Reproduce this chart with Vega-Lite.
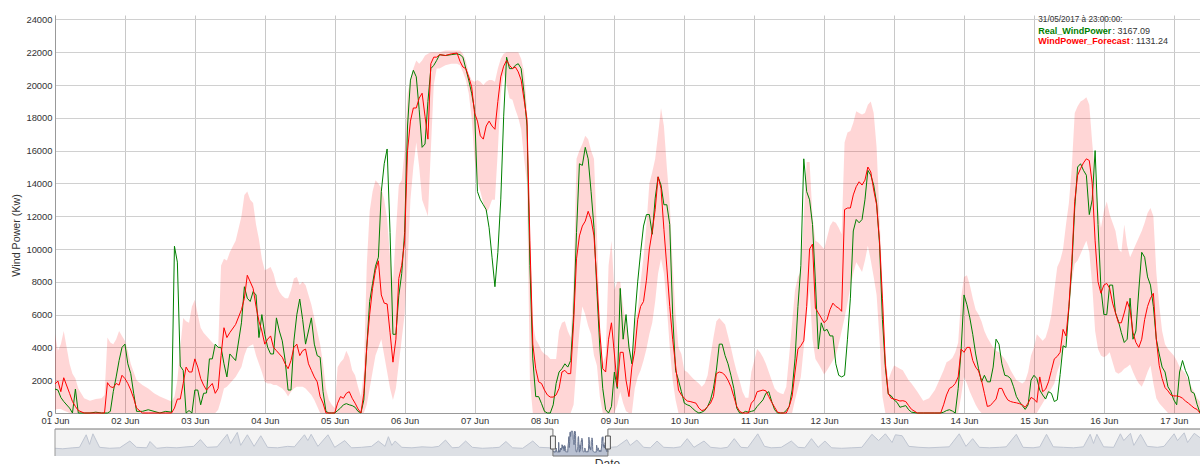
{
"$schema":"https://vega.github.io/schema/vega-lite/v6.json",
"padding":{"left":10,"top":14,"right":0,"bottom":0},
"background":"white",
"spacing":16,
"bounds":"flush",
"config":{"view":{"stroke":null},"font":"Liberation Sans","axisY":{"tickCount":13,"labelOverlap":false}},
"datasets":{
"main":[
{"date":"2017-06-01T00:00","real":1460,"forecast":1770,"low":200,"high":4800},
{"date":"2017-06-01T01:00","real":1400,"forecast":1950,"low":250,"high":3800},
{"date":"2017-06-01T02:00","real":950,"forecast":1300,"low":250,"high":4200},
{"date":"2017-06-01T03:00","real":700,"forecast":2150,"low":150,"high":5000},
{"date":"2017-06-01T05:00","real":300,"forecast":1200,"low":0,"high":3000},
{"date":"2017-06-01T06:00","real":0,"forecast":700,"low":0,"high":2400},
{"date":"2017-06-01T07:00","real":1460,"forecast":400,"low":0,"high":2100},
{"date":"2017-06-01T08:00","real":0,"forecast":150,"low":0,"high":1500},
{"date":"2017-06-01T10:00","real":0,"forecast":0,"low":0,"high":900},
{"date":"2017-06-01T12:00","real":0,"forecast":0,"low":0,"high":750},
{"date":"2017-06-01T14:00","real":50,"forecast":0,"low":0,"high":850},
{"date":"2017-06-01T16:00","real":0,"forecast":0,"low":0,"high":900},
{"date":"2017-06-01T17:00","real":0,"forecast":0,"low":0,"high":1100},
{"date":"2017-06-01T18:00","real":0,"forecast":1850,"low":0,"high":4600},
{"date":"2017-06-01T19:00","real":100,"forecast":1600,"low":0,"high":4300},
{"date":"2017-06-01T20:00","real":1300,"forecast":1550,"low":0,"high":4200},
{"date":"2017-06-01T21:00","real":2200,"forecast":1800,"low":0,"high":4500},
{"date":"2017-06-01T22:00","real":3200,"forecast":1700,"low":0,"high":5000},
{"date":"2017-06-01T23:00","real":4000,"forecast":2300,"low":0,"high":4700},
{"date":"2017-06-02T00:00","real":4200,"forecast":2100,"low":0,"high":4400},
{"date":"2017-06-02T01:00","real":3000,"forecast":1800,"low":0,"high":3800},
{"date":"2017-06-02T02:00","real":2400,"forecast":1400,"low":0,"high":3000},
{"date":"2017-06-02T03:00","real":1200,"forecast":900,"low":0,"high":2500},
{"date":"2017-06-02T04:00","real":100,"forecast":300,"low":0,"high":2000},
{"date":"2017-06-02T06:00","real":100,"forecast":0,"low":0,"high":1700},
{"date":"2017-06-02T08:00","real":200,"forecast":0,"low":0,"high":1500},
{"date":"2017-06-02T10:00","real":100,"forecast":0,"low":0,"high":1200},
{"date":"2017-06-02T12:00","real":0,"forecast":0,"low":0,"high":1000},
{"date":"2017-06-02T14:00","real":100,"forecast":0,"low":0,"high":850},
{"date":"2017-06-02T16:00","real":50,"forecast":0,"low":0,"high":700},
{"date":"2017-06-02T17:00","real":10170,"forecast":300,"low":0,"high":1000},
{"date":"2017-06-02T18:00","real":9200,"forecast":850,"low":0,"high":2000},
{"date":"2017-06-02T19:00","real":2860,"forecast":850,"low":0,"high":4000},
{"date":"2017-06-02T20:00","real":2600,"forecast":1800,"low":0,"high":5800},
{"date":"2017-06-02T21:00","real":0,"forecast":2800,"low":0,"high":5600},
{"date":"2017-06-02T22:00","real":150,"forecast":2500,"low":0,"high":5500},
{"date":"2017-06-02T23:00","real":0,"forecast":2500,"low":0,"high":6500},
{"date":"2017-06-03T00:00","real":1400,"forecast":3300,"low":0,"high":6900},
{"date":"2017-06-03T01:00","real":1400,"forecast":2800,"low":0,"high":6000},
{"date":"2017-06-03T02:00","real":500,"forecast":2100,"low":0,"high":5200},
{"date":"2017-06-03T03:00","real":1200,"forecast":1700,"low":0,"high":4900},
{"date":"2017-06-03T04:00","real":1220,"forecast":1400,"low":0,"high":4700},
{"date":"2017-06-03T05:00","real":3300,"forecast":1600,"low":0,"high":4500},
{"date":"2017-06-03T06:00","real":3300,"forecast":1800,"low":0,"high":4300},
{"date":"2017-06-03T07:00","real":4200,"forecast":1200,"low":0,"high":4100},
{"date":"2017-06-03T08:00","real":4000,"forecast":1500,"low":200,"high":4000},
{"date":"2017-06-03T09:00","real":4000,"forecast":3500,"low":800,"high":9000},
{"date":"2017-06-03T10:00","real":3000,"forecast":5200,"low":1500,"high":9400},
{"date":"2017-06-03T11:00","real":2200,"forecast":4600,"low":1600,"high":9300},
{"date":"2017-06-03T12:00","real":3600,"forecast":4900,"low":1800,"high":9800},
{"date":"2017-06-03T14:00","real":3200,"forecast":5400,"low":2200,"high":10500},
{"date":"2017-06-03T16:00","real":5500,"forecast":6300,"low":2800,"high":12000},
{"date":"2017-06-03T17:00","real":7700,"forecast":7000,"low":3500,"high":13300},
{"date":"2017-06-03T18:00","real":7000,"forecast":8400,"low":4000,"high":13500},
{"date":"2017-06-03T19:00","real":6800,"forecast":8000,"low":4100,"high":13000},
{"date":"2017-06-03T20:00","real":7400,"forecast":7600,"low":4200,"high":12800},
{"date":"2017-06-03T21:00","real":7200,"forecast":6500,"low":3500,"high":11500},
{"date":"2017-06-03T22:00","real":4600,"forecast":5600,"low":3000,"high":10600},
{"date":"2017-06-03T23:00","real":6000,"forecast":5000,"low":2500,"high":9400},
{"date":"2017-06-04T00:00","real":4800,"forecast":4200,"low":1900,"high":8700},
{"date":"2017-06-04T01:00","real":4000,"forecast":4500,"low":1800,"high":8800},
{"date":"2017-06-04T02:00","real":3600,"forecast":4700,"low":1800,"high":8900},
{"date":"2017-06-04T03:00","real":3600,"forecast":4000,"low":1700,"high":8500},
{"date":"2017-06-04T04:00","real":5800,"forecast":3800,"low":1700,"high":7800},
{"date":"2017-06-04T05:00","real":5000,"forecast":3600,"low":1600,"high":7400},
{"date":"2017-06-04T06:00","real":4400,"forecast":3400,"low":1500,"high":7150},
{"date":"2017-06-04T07:00","real":3200,"forecast":3000,"low":1300,"high":7000},
{"date":"2017-06-04T08:00","real":1400,"forecast":2700,"low":1000,"high":7000},
{"date":"2017-06-04T09:00","real":1400,"forecast":3200,"low":1300,"high":7500},
{"date":"2017-06-04T10:00","real":4400,"forecast":4000,"low":1500,"high":8200},
{"date":"2017-06-04T11:00","real":6000,"forecast":4200,"low":1600,"high":8300},
{"date":"2017-06-04T12:00","real":6950,"forecast":3500,"low":1600,"high":7800},
{"date":"2017-06-04T13:00","real":5700,"forecast":3800,"low":1600,"high":8000},
{"date":"2017-06-04T14:00","real":4200,"forecast":3900,"low":1500,"high":7800},
{"date":"2017-06-04T15:00","real":5000,"forecast":3000,"low":1300,"high":7200},
{"date":"2017-06-04T16:00","real":5800,"forecast":2600,"low":1100,"high":6600},
{"date":"2017-06-04T17:00","real":4200,"forecast":2200,"low":800,"high":5800},
{"date":"2017-06-04T18:00","real":3500,"forecast":1900,"low":400,"high":5000},
{"date":"2017-06-04T19:00","real":3400,"forecast":1000,"low":0,"high":4200},
{"date":"2017-06-04T20:00","real":1300,"forecast":600,"low":0,"high":3000},
{"date":"2017-06-04T21:00","real":100,"forecast":0,"low":0,"high":1500},
{"date":"2017-06-04T22:00","real":0,"forecast":0,"low":0,"high":800},
{"date":"2017-06-04T23:00","real":0,"forecast":0,"low":0,"high":500},
{"date":"2017-06-05T00:00","real":0,"forecast":0,"low":0,"high":300},
{"date":"2017-06-05T01:00","real":150,"forecast":600,"low":0,"high":2800},
{"date":"2017-06-05T02:00","real":300,"forecast":1000,"low":0,"high":3100},
{"date":"2017-06-05T03:00","real":500,"forecast":900,"low":0,"high":3300},
{"date":"2017-06-05T04:00","real":570,"forecast":1200,"low":0,"high":3800},
{"date":"2017-06-05T05:00","real":500,"forecast":1300,"low":0,"high":3400},
{"date":"2017-06-05T06:00","real":450,"forecast":900,"low":0,"high":2600},
{"date":"2017-06-05T07:00","real":350,"forecast":600,"low":0,"high":2300},
{"date":"2017-06-05T08:00","real":100,"forecast":250,"low":0,"high":1600},
{"date":"2017-06-05T09:00","real":0,"forecast":0,"low":0,"high":1000},
{"date":"2017-06-05T10:00","real":800,"forecast":1200,"low":0,"high":2500},
{"date":"2017-06-05T11:00","real":4000,"forecast":4000,"low":500,"high":9000},
{"date":"2017-06-05T12:00","real":6800,"forecast":6000,"low":1500,"high":12300},
{"date":"2017-06-05T13:00","real":7900,"forecast":7600,"low":2500,"high":13500},
{"date":"2017-06-05T14:00","real":8950,"forecast":8700,"low":3500,"high":14200},
{"date":"2017-06-05T15:00","real":9500,"forecast":9280,"low":4000,"high":14000},
{"date":"2017-06-05T16:00","real":13500,"forecast":7200,"low":4500,"high":13700},
{"date":"2017-06-05T17:00","real":15200,"forecast":6700,"low":3500,"high":13000},
{"date":"2017-06-05T18:00","real":16100,"forecast":6650,"low":2500,"high":11800},
{"date":"2017-06-05T19:00","real":11000,"forecast":4900,"low":1500,"high":9500},
{"date":"2017-06-05T20:00","real":4800,"forecast":3100,"low":800,"high":8000},
{"date":"2017-06-05T21:00","real":4800,"forecast":4500,"low":1500,"high":11000},
{"date":"2017-06-05T22:00","real":7150,"forecast":8200,"low":3000,"high":13900},
{"date":"2017-06-05T23:00","real":8500,"forecast":9000,"low":4500,"high":14200},
{"date":"2017-06-06T00:00","real":11000,"forecast":10500,"low":6000,"high":16000},
{"date":"2017-06-06T01:00","real":17500,"forecast":16000,"low":9000,"high":19500},
{"date":"2017-06-06T02:00","real":20300,"forecast":17800,"low":13000,"high":20300},
{"date":"2017-06-06T03:00","real":20900,"forecast":18600,"low":15000,"high":21000},
{"date":"2017-06-06T04:00","real":20500,"forecast":18600,"low":16500,"high":21500},
{"date":"2017-06-06T05:00","real":18500,"forecast":19200,"low":15000,"high":21300},
{"date":"2017-06-06T06:00","real":16200,"forecast":19500,"low":13000,"high":21500},
{"date":"2017-06-06T07:00","real":16400,"forecast":18100,"low":12500,"high":21800},
{"date":"2017-06-06T08:00","real":19000,"forecast":16700,"low":12000,"high":21900},
{"date":"2017-06-06T09:00","real":21000,"forecast":21300,"low":16000,"high":22000},
{"date":"2017-06-06T10:00","real":21200,"forecast":21700,"low":20000,"high":22000},
{"date":"2017-06-06T11:00","real":21500,"forecast":21700,"low":21000,"high":22000},
{"date":"2017-06-06T12:00","real":21850,"forecast":21850,"low":21000,"high":22000},
{"date":"2017-06-06T14:00","real":21800,"forecast":21800,"low":21200,"high":22100},
{"date":"2017-06-06T16:00","real":21850,"forecast":21900,"low":21300,"high":22100},
{"date":"2017-06-06T18:00","real":21900,"forecast":21950,"low":21300,"high":22100},
{"date":"2017-06-06T19:00","real":21850,"forecast":21450,"low":21200,"high":22100},
{"date":"2017-06-06T20:00","real":21700,"forecast":21100,"low":20800,"high":21900},
{"date":"2017-06-06T21:00","real":21000,"forecast":21000,"low":20300,"high":21500},
{"date":"2017-06-06T22:00","real":20300,"forecast":20500,"low":19500,"high":20700},
{"date":"2017-06-06T23:00","real":19500,"forecast":19900,"low":18000,"high":20300},
{"date":"2017-06-07T00:00","real":18500,"forecast":18300,"low":15500,"high":20200},
{"date":"2017-06-07T01:00","real":13500,"forecast":17800,"low":14200,"high":20300},
{"date":"2017-06-07T02:00","real":13000,"forecast":16900,"low":13500,"high":20200},
{"date":"2017-06-07T03:00","real":12700,"forecast":16700,"low":12800,"high":20000},
{"date":"2017-06-07T04:00","real":12400,"forecast":17500,"low":12200,"high":20200},
{"date":"2017-06-07T05:00","real":11300,"forecast":17800,"low":12500,"high":20300},
{"date":"2017-06-07T06:00","real":9500,"forecast":17500,"low":13000,"high":20300},
{"date":"2017-06-07T07:00","real":7700,"forecast":17300,"low":13000,"high":20200},
{"date":"2017-06-07T08:00","real":9800,"forecast":19000,"low":16000,"high":21000},
{"date":"2017-06-07T09:00","real":13000,"forecast":20500,"low":19500,"high":21600},
{"date":"2017-06-07T10:00","real":18100,"forecast":21150,"low":20700,"high":21900},
{"date":"2017-06-07T11:00","real":21700,"forecast":21500,"low":20000,"high":22000},
{"date":"2017-06-07T12:00","real":21000,"forecast":21200,"low":19200,"high":22000},
{"date":"2017-06-07T13:00","real":21000,"forecast":21000,"low":19100,"high":22000},
{"date":"2017-06-07T14:00","real":21200,"forecast":21100,"low":18500,"high":22000},
{"date":"2017-06-07T15:00","real":21300,"forecast":20800,"low":18000,"high":22000},
{"date":"2017-06-07T16:00","real":21000,"forecast":20300,"low":17300,"high":21600},
{"date":"2017-06-07T17:00","real":19500,"forecast":19100,"low":15500,"high":20800},
{"date":"2017-06-07T18:00","real":17500,"forecast":17900,"low":14000,"high":18500},
{"date":"2017-06-07T19:00","real":9000,"forecast":10500,"low":2000,"high":11000},
{"date":"2017-06-07T20:00","real":3300,"forecast":4200,"low":0,"high":5500},
{"date":"2017-06-07T21:00","real":1000,"forecast":2700,"low":0,"high":4500},
{"date":"2017-06-07T22:00","real":1000,"forecast":1900,"low":0,"high":4200},
{"date":"2017-06-07T23:00","real":570,"forecast":1800,"low":0,"high":3800},
{"date":"2017-06-08T00:00","real":100,"forecast":1400,"low":0,"high":3600},
{"date":"2017-06-08T01:00","real":0,"forecast":1100,"low":0,"high":3500},
{"date":"2017-06-08T02:00","real":0,"forecast":970,"low":0,"high":3300},
{"date":"2017-06-08T03:00","real":500,"forecast":970,"low":0,"high":3300},
{"date":"2017-06-08T04:00","real":1800,"forecast":1100,"low":0,"high":3300},
{"date":"2017-06-08T05:00","real":2500,"forecast":1500,"low":0,"high":5000},
{"date":"2017-06-08T06:00","real":2700,"forecast":2500,"low":0,"high":5500},
{"date":"2017-06-08T07:00","real":3000,"forecast":2600,"low":0,"high":5600},
{"date":"2017-06-08T08:00","real":2800,"forecast":2400,"low":0,"high":5000},
{"date":"2017-06-08T09:00","real":3200,"forecast":2400,"low":0,"high":4600},
{"date":"2017-06-08T10:00","real":6000,"forecast":5500,"low":500,"high":8000},
{"date":"2017-06-08T11:00","real":11000,"forecast":9400,"low":2900,"high":15500},
{"date":"2017-06-08T12:00","real":15200,"forecast":10800,"low":5000,"high":16000},
{"date":"2017-06-08T13:00","real":15100,"forecast":11400,"low":6500,"high":16400},
{"date":"2017-06-08T14:00","real":16200,"forecast":11700,"low":6000,"high":16900},
{"date":"2017-06-08T15:00","real":15500,"forecast":12300,"low":5300,"high":16700},
{"date":"2017-06-08T16:00","real":13500,"forecast":11800,"low":4800,"high":16000},
{"date":"2017-06-08T17:00","real":11300,"forecast":10800,"low":3500,"high":15500},
{"date":"2017-06-08T18:00","real":7400,"forecast":8000,"low":2900,"high":11000},
{"date":"2017-06-08T19:00","real":4000,"forecast":4900,"low":1000,"high":5500},
{"date":"2017-06-08T20:00","real":1500,"forecast":2700,"low":0,"high":3000},
{"date":"2017-06-08T21:00","real":200,"forecast":2500,"low":0,"high":3500},
{"date":"2017-06-08T22:00","real":0,"forecast":4500,"low":0,"high":9000},
{"date":"2017-06-08T23:00","real":400,"forecast":5500,"low":0,"high":10500},
{"date":"2017-06-09T00:00","real":2500,"forecast":3600,"low":0,"high":7500},
{"date":"2017-06-09T01:00","real":1500,"forecast":1600,"low":500,"high":8000},
{"date":"2017-06-09T02:00","real":7600,"forecast":3700,"low":1300,"high":8000},
{"date":"2017-06-09T03:00","real":4500,"forecast":3700,"low":600,"high":6500},
{"date":"2017-06-09T04:00","real":6000,"forecast":2000,"low":100,"high":5400},
{"date":"2017-06-09T05:00","real":4000,"forecast":1000,"low":0,"high":4500},
{"date":"2017-06-09T06:00","real":3000,"forecast":2800,"low":0,"high":3200},
{"date":"2017-06-09T07:00","real":5800,"forecast":3800,"low":1500,"high":5500},
{"date":"2017-06-09T08:00","real":8000,"forecast":5700,"low":2200,"high":6200},
{"date":"2017-06-09T09:00","real":9800,"forecast":6500,"low":2600,"high":8000},
{"date":"2017-06-09T10:00","real":11400,"forecast":6800,"low":3200,"high":9500},
{"date":"2017-06-09T11:00","real":12100,"forecast":8100,"low":3900,"high":11500},
{"date":"2017-06-09T12:00","real":12100,"forecast":10000,"low":4800,"high":14000},
{"date":"2017-06-09T13:00","real":10900,"forecast":11100,"low":5500,"high":14700},
{"date":"2017-06-09T14:00","real":13100,"forecast":12400,"low":6800,"high":15500},
{"date":"2017-06-09T15:00","real":14400,"forecast":14400,"low":8500,"high":17000},
{"date":"2017-06-09T16:00","real":13900,"forecast":13700,"low":9400,"high":18600},
{"date":"2017-06-09T17:00","real":12700,"forecast":11200,"low":8500,"high":17500},
{"date":"2017-06-09T18:00","real":12700,"forecast":8900,"low":6500,"high":15000},
{"date":"2017-06-09T19:00","real":11500,"forecast":6500,"low":4000,"high":12800},
{"date":"2017-06-09T20:00","real":6000,"forecast":4500,"low":2000,"high":9000},
{"date":"2017-06-09T21:00","real":2600,"forecast":2900,"low":800,"high":6000},
{"date":"2017-06-09T22:00","real":2000,"forecast":1400,"low":0,"high":4000},
{"date":"2017-06-09T23:00","real":1300,"forecast":1100,"low":0,"high":3600},
{"date":"2017-06-10T00:00","real":600,"forecast":900,"low":0,"high":2600},
{"date":"2017-06-10T01:00","real":500,"forecast":730,"low":0,"high":2500},
{"date":"2017-06-10T02:00","real":430,"forecast":700,"low":0,"high":2300},
{"date":"2017-06-10T03:00","real":250,"forecast":650,"low":0,"high":2100},
{"date":"2017-06-10T04:00","real":100,"forecast":600,"low":0,"high":1950},
{"date":"2017-06-10T05:00","real":0,"forecast":300,"low":0,"high":1800},
{"date":"2017-06-10T06:00","real":50,"forecast":150,"low":0,"high":1600},
{"date":"2017-06-10T07:00","real":150,"forecast":200,"low":0,"high":1800},
{"date":"2017-06-10T08:00","real":400,"forecast":400,"low":0,"high":2300},
{"date":"2017-06-10T09:00","real":800,"forecast":600,"low":0,"high":3500},
{"date":"2017-06-10T10:00","real":1500,"forecast":1000,"low":0,"high":4600},
{"date":"2017-06-10T11:00","real":2600,"forecast":2400,"low":0,"high":5600},
{"date":"2017-06-10T12:00","real":4200,"forecast":2500,"low":0,"high":5800},
{"date":"2017-06-10T13:00","real":4200,"forecast":2450,"low":0,"high":5600},
{"date":"2017-06-10T14:00","real":3500,"forecast":2300,"low":0,"high":5400},
{"date":"2017-06-10T15:00","real":3000,"forecast":2000,"low":0,"high":4700},
{"date":"2017-06-10T16:00","real":2300,"forecast":1600,"low":0,"high":4000},
{"date":"2017-06-10T17:00","real":1500,"forecast":1000,"low":0,"high":3200},
{"date":"2017-06-10T18:00","real":300,"forecast":400,"low":0,"high":2500},
{"date":"2017-06-10T19:00","real":0,"forecast":100,"low":0,"high":1950},
{"date":"2017-06-10T20:00","real":0,"forecast":0,"low":0,"high":1300},
{"date":"2017-06-10T21:00","real":100,"forecast":0,"low":0,"high":930},
{"date":"2017-06-10T22:00","real":50,"forecast":0,"low":0,"high":930},
{"date":"2017-06-10T23:00","real":100,"forecast":600,"low":0,"high":2500},
{"date":"2017-06-11T00:00","real":150,"forecast":800,"low":0,"high":3200},
{"date":"2017-06-11T01:00","real":400,"forecast":1300,"low":0,"high":3900},
{"date":"2017-06-11T02:00","real":600,"forecast":1350,"low":0,"high":3700},
{"date":"2017-06-11T03:00","real":800,"forecast":1400,"low":0,"high":3400},
{"date":"2017-06-11T04:00","real":1200,"forecast":1350,"low":0,"high":3000},
{"date":"2017-06-11T05:00","real":1300,"forecast":1000,"low":0,"high":2500},
{"date":"2017-06-11T06:00","real":700,"forecast":650,"low":0,"high":2000},
{"date":"2017-06-11T07:00","real":200,"forecast":350,"low":0,"high":1500},
{"date":"2017-06-11T08:00","real":0,"forecast":50,"low":0,"high":1300},
{"date":"2017-06-11T09:00","real":0,"forecast":0,"low":0,"high":1200},
{"date":"2017-06-11T10:00","real":0,"forecast":0,"low":0,"high":1140},
{"date":"2017-06-11T11:00","real":150,"forecast":0,"low":0,"high":1600},
{"date":"2017-06-11T12:00","real":400,"forecast":400,"low":0,"high":3500},
{"date":"2017-06-11T13:00","real":1400,"forecast":1000,"low":0,"high":5500},
{"date":"2017-06-11T14:00","real":3300,"forecast":2500,"low":800,"high":7500},
{"date":"2017-06-11T15:00","real":6500,"forecast":3900,"low":1500,"high":8300},
{"date":"2017-06-11T16:00","real":9000,"forecast":4100,"low":2200,"high":8650},
{"date":"2017-06-11T17:00","real":15500,"forecast":4400,"low":4000,"high":12000},
{"date":"2017-06-11T18:00","real":13500,"forecast":6500,"low":6000,"high":15300},
{"date":"2017-06-11T19:00","real":13000,"forecast":10000,"low":7500,"high":15300},
{"date":"2017-06-11T20:00","real":11500,"forecast":10300,"low":4500,"high":12000},
{"date":"2017-06-11T21:00","real":8000,"forecast":6400,"low":3300,"high":10500},
{"date":"2017-06-11T22:00","real":3900,"forecast":6100,"low":3000,"high":10400},
{"date":"2017-06-11T23:00","real":5500,"forecast":5800,"low":2700,"high":10200},
{"date":"2017-06-12T00:00","real":5000,"forecast":5500,"low":2350,"high":10000},
{"date":"2017-06-12T01:00","real":5100,"forecast":5700,"low":2600,"high":10700},
{"date":"2017-06-12T02:00","real":4700,"forecast":6300,"low":2900,"high":11400},
{"date":"2017-06-12T03:00","real":4700,"forecast":6700,"low":3200,"high":11700},
{"date":"2017-06-12T04:00","real":3000,"forecast":6500,"low":3500,"high":11600},
{"date":"2017-06-12T05:00","real":2300,"forecast":6400,"low":4200,"high":11300},
{"date":"2017-06-12T06:00","real":2200,"forecast":6200,"low":5000,"high":10900},
{"date":"2017-06-12T07:00","real":2300,"forecast":12400,"low":5800,"high":16500},
{"date":"2017-06-12T08:00","real":4500,"forecast":12500,"low":6700,"high":17100},
{"date":"2017-06-12T09:00","real":7000,"forecast":12500,"low":7700,"high":17200},
{"date":"2017-06-12T10:00","real":11100,"forecast":13300,"low":8500,"high":17700},
{"date":"2017-06-12T11:00","real":11800,"forecast":13800,"low":9200,"high":18400},
{"date":"2017-06-12T12:00","real":11600,"forecast":14100,"low":8900,"high":18300},
{"date":"2017-06-12T13:00","real":11800,"forecast":13900,"low":8600,"high":18200},
{"date":"2017-06-12T14:00","real":13000,"forecast":14200,"low":9300,"high":18300},
{"date":"2017-06-12T15:00","real":14800,"forecast":15000,"low":10200,"high":18800},
{"date":"2017-06-12T16:00","real":14500,"forecast":14700,"low":9300,"high":19000},
{"date":"2017-06-12T17:00","real":13900,"forecast":13600,"low":8300,"high":18300},
{"date":"2017-06-12T18:00","real":12800,"forecast":12700,"low":7200,"high":16200},
{"date":"2017-06-12T19:00","real":10300,"forecast":10500,"low":4500,"high":12000},
{"date":"2017-06-12T20:00","real":5700,"forecast":7000,"low":1000,"high":7800},
{"date":"2017-06-12T21:00","real":2800,"forecast":3000,"low":0,"high":3500},
{"date":"2017-06-12T22:00","real":1150,"forecast":1200,"low":0,"high":2000},
{"date":"2017-06-12T23:00","real":1050,"forecast":900,"low":0,"high":2500},
{"date":"2017-06-13T00:00","real":800,"forecast":850,"low":0,"high":2900},
{"date":"2017-06-13T01:00","real":650,"forecast":800,"low":0,"high":2800},
{"date":"2017-06-13T02:00","real":350,"forecast":730,"low":0,"high":2700},
{"date":"2017-06-13T03:00","real":400,"forecast":750,"low":0,"high":2600},
{"date":"2017-06-13T04:00","real":450,"forecast":700,"low":0,"high":2300},
{"date":"2017-06-13T05:00","real":200,"forecast":450,"low":0,"high":2000},
{"date":"2017-06-13T06:00","real":50,"forecast":220,"low":0,"high":1800},
{"date":"2017-06-13T08:00","real":0,"forecast":0,"low":0,"high":1300},
{"date":"2017-06-13T10:00","real":0,"forecast":0,"low":0,"high":750},
{"date":"2017-06-13T12:00","real":0,"forecast":0,"low":0,"high":900},
{"date":"2017-06-13T14:00","real":0,"forecast":0,"low":0,"high":1400},
{"date":"2017-06-13T16:00","real":0,"forecast":0,"low":0,"high":2200},
{"date":"2017-06-13T17:00","real":50,"forecast":500,"low":0,"high":2600},
{"date":"2017-06-13T18:00","real":150,"forecast":1100,"low":0,"high":3100},
{"date":"2017-06-13T19:00","real":200,"forecast":1500,"low":0,"high":3200},
{"date":"2017-06-13T20:00","real":120,"forecast":1600,"low":0,"high":3350},
{"date":"2017-06-13T21:00","real":0,"forecast":1800,"low":0,"high":3700},
{"date":"2017-06-13T22:00","real":1500,"forecast":2200,"low":0,"high":4300},
{"date":"2017-06-13T23:00","real":3800,"forecast":3900,"low":1000,"high":7000},
{"date":"2017-06-14T00:00","real":7200,"forecast":3700,"low":2200,"high":8300},
{"date":"2017-06-14T01:00","real":6600,"forecast":4000,"low":1800,"high":8400},
{"date":"2017-06-14T02:00","real":5800,"forecast":4000,"low":1300,"high":7800},
{"date":"2017-06-14T03:00","real":4800,"forecast":3200,"low":900,"high":7000},
{"date":"2017-06-14T04:00","real":3600,"forecast":2800,"low":500,"high":6300},
{"date":"2017-06-14T05:00","real":2700,"forecast":2560,"low":200,"high":6000},
{"date":"2017-06-14T06:00","real":1900,"forecast":2000,"low":0,"high":5600},
{"date":"2017-06-14T07:00","real":2300,"forecast":1200,"low":0,"high":5000},
{"date":"2017-06-14T08:00","real":1900,"forecast":400,"low":0,"high":4600},
{"date":"2017-06-14T09:00","real":1900,"forecast":450,"low":0,"high":4300},
{"date":"2017-06-14T10:00","real":2800,"forecast":650,"low":0,"high":4000},
{"date":"2017-06-14T11:00","real":4500,"forecast":850,"low":0,"high":3800},
{"date":"2017-06-14T12:00","real":4200,"forecast":1500,"low":0,"high":3700},
{"date":"2017-06-14T13:00","real":3000,"forecast":1500,"low":0,"high":3500},
{"date":"2017-06-14T14:00","real":2300,"forecast":1100,"low":0,"high":3300},
{"date":"2017-06-14T15:00","real":2250,"forecast":800,"low":0,"high":3000},
{"date":"2017-06-14T16:00","real":2100,"forecast":700,"low":0,"high":2600},
{"date":"2017-06-14T17:00","real":1600,"forecast":650,"low":0,"high":2300},
{"date":"2017-06-14T18:00","real":1000,"forecast":620,"low":0,"high":2000},
{"date":"2017-06-14T19:00","real":700,"forecast":570,"low":0,"high":1900},
{"date":"2017-06-14T20:00","real":450,"forecast":500,"low":0,"high":1800},
{"date":"2017-06-14T21:00","real":220,"forecast":350,"low":0,"high":1950},
{"date":"2017-06-14T22:00","real":500,"forecast":600,"low":0,"high":2500},
{"date":"2017-06-14T23:00","real":2000,"forecast":950,"low":0,"high":3500},
{"date":"2017-06-15T00:00","real":2300,"forecast":850,"low":0,"high":4000},
{"date":"2017-06-15T01:00","real":2100,"forecast":650,"low":0,"high":4800},
{"date":"2017-06-15T02:00","real":1400,"forecast":2200,"low":300,"high":4600},
{"date":"2017-06-15T03:00","real":1100,"forecast":1300,"low":600,"high":4400},
{"date":"2017-06-15T04:00","real":850,"forecast":1450,"low":900,"high":4600},
{"date":"2017-06-15T05:00","real":1300,"forecast":1900,"low":1200,"high":5200},
{"date":"2017-06-15T06:00","real":1200,"forecast":2600,"low":1500,"high":6000},
{"date":"2017-06-15T07:00","real":700,"forecast":3300,"low":1800,"high":7500},
{"date":"2017-06-15T08:00","real":800,"forecast":3450,"low":2500,"high":8900},
{"date":"2017-06-15T09:00","real":2350,"forecast":3700,"low":3000,"high":9300},
{"date":"2017-06-15T10:00","real":4100,"forecast":5100,"low":3800,"high":10000},
{"date":"2017-06-15T11:00","real":4000,"forecast":4700,"low":4300,"high":11500},
{"date":"2017-06-15T12:00","real":6400,"forecast":6500,"low":6000,"high":12800},
{"date":"2017-06-15T13:00","real":8850,"forecast":9250,"low":8000,"high":15000},
{"date":"2017-06-15T14:00","real":12500,"forecast":12900,"low":9100,"high":18300},
{"date":"2017-06-15T15:00","real":15000,"forecast":14500,"low":9300,"high":18700},
{"date":"2017-06-15T16:00","real":15200,"forecast":14900,"low":9700,"high":19000},
{"date":"2017-06-15T17:00","real":14800,"forecast":15250,"low":10100,"high":19100},
{"date":"2017-06-15T18:00","real":14500,"forecast":15500,"low":10500,"high":19250},
{"date":"2017-06-15T19:00","real":12100,"forecast":15400,"low":9800,"high":18800},
{"date":"2017-06-15T20:00","real":13000,"forecast":14000,"low":7800,"high":16500},
{"date":"2017-06-15T21:00","real":16000,"forecast":10500,"low":5000,"high":14500},
{"date":"2017-06-15T22:00","real":11500,"forecast":8000,"low":3900,"high":12500},
{"date":"2017-06-15T23:00","real":7600,"forecast":7300,"low":3500,"high":11300},
{"date":"2017-06-16T00:00","real":6000,"forecast":7800,"low":3400,"high":12300},
{"date":"2017-06-16T01:00","real":6000,"forecast":7900,"low":3500,"high":12900},
{"date":"2017-06-16T02:00","real":7800,"forecast":7600,"low":3700,"high":12100},
{"date":"2017-06-16T03:00","real":7800,"forecast":6700,"low":3100,"high":11600},
{"date":"2017-06-16T04:00","real":6100,"forecast":6100,"low":2500,"high":11100},
{"date":"2017-06-16T05:00","real":5600,"forecast":5500,"low":2400,"high":10000},
{"date":"2017-06-16T06:00","real":4900,"forecast":5500,"low":2500,"high":9800},
{"date":"2017-06-16T07:00","real":4300,"forecast":6100,"low":2700,"high":11500},
{"date":"2017-06-16T08:00","real":4500,"forecast":6800,"low":2800,"high":10200},
{"date":"2017-06-16T09:00","real":7000,"forecast":6300,"low":2950,"high":9500},
{"date":"2017-06-16T10:00","real":4500,"forecast":4900,"low":2500,"high":9900},
{"date":"2017-06-16T11:00","real":5000,"forecast":4300,"low":2100,"high":10300},
{"date":"2017-06-16T12:00","real":7500,"forecast":4000,"low":1800,"high":10700},
{"date":"2017-06-16T13:00","real":9800,"forecast":4500,"low":1600,"high":11100},
{"date":"2017-06-16T14:00","real":9500,"forecast":5700,"low":2000,"high":11600},
{"date":"2017-06-16T15:00","real":8300,"forecast":6500,"low":2500,"high":12200},
{"date":"2017-06-16T16:00","real":7800,"forecast":7000,"low":2900,"high":12500},
{"date":"2017-06-16T17:00","real":6500,"forecast":7300,"low":1800,"high":12000},
{"date":"2017-06-16T18:00","real":4500,"forecast":4500,"low":900,"high":8600},
{"date":"2017-06-16T19:00","real":3600,"forecast":2900,"low":600,"high":6600},
{"date":"2017-06-16T20:00","real":2800,"forecast":2100,"low":400,"high":5000},
{"date":"2017-06-16T21:00","real":2500,"forecast":1550,"low":200,"high":4200},
{"date":"2017-06-16T22:00","real":1600,"forecast":1350,"low":0,"high":3900},
{"date":"2017-06-16T23:00","real":1300,"forecast":1100,"low":0,"high":3700},
{"date":"2017-06-17T00:00","real":800,"forecast":1040,"low":0,"high":3500},
{"date":"2017-06-17T01:00","real":500,"forecast":1040,"low":0,"high":3200},
{"date":"2017-06-17T02:00","real":2500,"forecast":1000,"low":0,"high":2800},
{"date":"2017-06-17T03:00","real":3200,"forecast":900,"low":0,"high":2600},
{"date":"2017-06-17T04:00","real":2600,"forecast":730,"low":0,"high":2400},
{"date":"2017-06-17T05:00","real":2200,"forecast":600,"low":0,"high":2000},
{"date":"2017-06-17T06:00","real":1300,"forecast":450,"low":0,"high":1600},
{"date":"2017-06-17T07:00","real":1200,"forecast":300,"low":0,"high":1300},
{"date":"2017-06-17T08:00","real":530,"forecast":220,"low":0,"high":900},
{"date":"2017-06-17T09:00","real":0,"forecast":0,"low":0,"high":700}
],
"overview":[
{"date":"2017-01-03T17:00","value":4000,"part":"a"},
{"date":"2017-01-06T00:00","value":3500,"part":"a"},
{"date":"2017-01-09T00:00","value":4500,"part":"a"},
{"date":"2017-01-11T00:00","value":5000,"part":"a"},
{"date":"2017-01-13T00:00","value":18000,"part":"a"},
{"date":"2017-01-14T00:00","value":8000,"part":"a"},
{"date":"2017-01-15T00:00","value":19000,"part":"a"},
{"date":"2017-01-17T00:00","value":5000,"part":"a"},
{"date":"2017-01-20T00:00","value":4000,"part":"a"},
{"date":"2017-01-23T00:00","value":4500,"part":"a"},
{"date":"2017-01-26T00:00","value":11500,"part":"a"},
{"date":"2017-01-28T00:00","value":5000,"part":"a"},
{"date":"2017-01-31T00:00","value":4500,"part":"a"},
{"date":"2017-02-01T00:00","value":11000,"part":"a"},
{"date":"2017-02-03T00:00","value":4000,"part":"a"},
{"date":"2017-02-06T00:00","value":5000,"part":"a"},
{"date":"2017-02-09T00:00","value":4500,"part":"a"},
{"date":"2017-02-12T00:00","value":5500,"part":"a"},
{"date":"2017-02-14T00:00","value":6000,"part":"a"},
{"date":"2017-02-16T00:00","value":13000,"part":"a"},
{"date":"2017-02-18T00:00","value":5000,"part":"a"},
{"date":"2017-02-21T00:00","value":5500,"part":"a"},
{"date":"2017-02-24T00:00","value":18500,"part":"a"},
{"date":"2017-02-25T00:00","value":9000,"part":"a"},
{"date":"2017-02-27T00:00","value":20500,"part":"a"},
{"date":"2017-02-28T00:00","value":7000,"part":"a"},
{"date":"2017-03-02T00:00","value":18000,"part":"a"},
{"date":"2017-03-04T00:00","value":6000,"part":"a"},
{"date":"2017-03-06T00:00","value":17000,"part":"a"},
{"date":"2017-03-08T00:00","value":5000,"part":"a"},
{"date":"2017-03-11T00:00","value":4500,"part":"a"},
{"date":"2017-03-14T00:00","value":6000,"part":"a"},
{"date":"2017-03-16T00:00","value":5500,"part":"a"},
{"date":"2017-03-19T00:00","value":18000,"part":"a"},
{"date":"2017-03-20T00:00","value":12000,"part":"a"},
{"date":"2017-03-21T00:00","value":18500,"part":"a"},
{"date":"2017-03-23T00:00","value":6000,"part":"a"},
{"date":"2017-03-26T00:00","value":18000,"part":"a"},
{"date":"2017-03-28T00:00","value":5000,"part":"a"},
{"date":"2017-03-31T00:00","value":12000,"part":"a"},
{"date":"2017-04-02T00:00","value":4500,"part":"a"},
{"date":"2017-04-05T00:00","value":5000,"part":"a"},
{"date":"2017-04-08T00:00","value":6000,"part":"a"},
{"date":"2017-04-10T00:00","value":11500,"part":"a"},
{"date":"2017-04-12T00:00","value":6000,"part":"a"},
{"date":"2017-04-13T00:00","value":16000,"part":"a"},
{"date":"2017-04-14T00:00","value":7000,"part":"a"},
{"date":"2017-04-15T00:00","value":11500,"part":"a"},
{"date":"2017-04-17T00:00","value":5000,"part":"a"},
{"date":"2017-04-20T00:00","value":4500,"part":"a"},
{"date":"2017-04-23T00:00","value":5500,"part":"a"},
{"date":"2017-04-26T00:00","value":5000,"part":"a"},
{"date":"2017-04-28T00:00","value":6000,"part":"a"},
{"date":"2017-04-30T00:00","value":12500,"part":"a"},
{"date":"2017-05-02T00:00","value":4500,"part":"a"},
{"date":"2017-05-04T00:00","value":5000,"part":"a"},
{"date":"2017-05-06T00:00","value":11500,"part":"a"},
{"date":"2017-05-08T00:00","value":5000,"part":"a"},
{"date":"2017-05-11T00:00","value":4000,"part":"a"},
{"date":"2017-05-14T00:00","value":4500,"part":"a"},
{"date":"2017-05-16T00:00","value":5000,"part":"a"},
{"date":"2017-05-18T00:00","value":11000,"part":"a"},
{"date":"2017-05-20T00:00","value":4500,"part":"a"},
{"date":"2017-05-23T00:00","value":4000,"part":"a"},
{"date":"2017-05-26T00:00","value":11500,"part":"a"},
{"date":"2017-05-28T00:00","value":5000,"part":"a"},
{"date":"2017-05-31T00:00","value":4500,"part":"a"},
{"date":"2017-06-01T00:00","value":1460,"part":"a"},
{"date":"2017-06-17T09:00","value":0,"part":"b"},
{"date":"2017-06-18T00:00","value":5000,"part":"b"},
{"date":"2017-06-20T00:00","value":5500,"part":"b"},
{"date":"2017-06-23T00:00","value":13000,"part":"b"},
{"date":"2017-06-24T00:00","value":7000,"part":"b"},
{"date":"2017-06-26T00:00","value":12500,"part":"b"},
{"date":"2017-06-28T00:00","value":5000,"part":"b"},
{"date":"2017-06-30T00:00","value":4500,"part":"b"},
{"date":"2017-07-02T00:00","value":11500,"part":"b"},
{"date":"2017-07-04T00:00","value":5000,"part":"b"},
{"date":"2017-07-07T00:00","value":4500,"part":"b"},
{"date":"2017-07-09T00:00","value":5500,"part":"b"},
{"date":"2017-07-11T00:00","value":14000,"part":"b"},
{"date":"2017-07-13T00:00","value":5000,"part":"b"},
{"date":"2017-07-16T00:00","value":11500,"part":"b"},
{"date":"2017-07-18T00:00","value":5000,"part":"b"},
{"date":"2017-07-21T00:00","value":4000,"part":"b"},
{"date":"2017-07-23T00:00","value":5000,"part":"b"},
{"date":"2017-07-25T00:00","value":14000,"part":"b"},
{"date":"2017-07-27T00:00","value":5000,"part":"b"},
{"date":"2017-07-29T00:00","value":4500,"part":"b"},
{"date":"2017-08-01T00:00","value":19000,"part":"b"},
{"date":"2017-08-03T00:00","value":6000,"part":"b"},
{"date":"2017-08-05T00:00","value":4500,"part":"b"},
{"date":"2017-08-08T00:00","value":5000,"part":"b"},
{"date":"2017-08-11T00:00","value":11500,"part":"b"},
{"date":"2017-08-13T00:00","value":5000,"part":"b"},
{"date":"2017-08-15T00:00","value":4500,"part":"b"},
{"date":"2017-08-17T00:00","value":14000,"part":"b"},
{"date":"2017-08-19T00:00","value":5000,"part":"b"},
{"date":"2017-08-21T00:00","value":11500,"part":"b"},
{"date":"2017-08-23T00:00","value":4500,"part":"b"},
{"date":"2017-08-26T00:00","value":4000,"part":"b"},
{"date":"2017-08-29T00:00","value":4500,"part":"b"},
{"date":"2017-09-01T00:00","value":5000,"part":"b"},
{"date":"2017-09-04T00:00","value":18500,"part":"b"},
{"date":"2017-09-06T00:00","value":12000,"part":"b"},
{"date":"2017-09-08T00:00","value":19000,"part":"b"},
{"date":"2017-09-10T00:00","value":10000,"part":"b"},
{"date":"2017-09-11T00:00","value":18000,"part":"b"},
{"date":"2017-09-13T00:00","value":17000,"part":"b"},
{"date":"2017-09-15T00:00","value":6000,"part":"b"},
{"date":"2017-09-18T00:00","value":5000,"part":"b"},
{"date":"2017-09-21T00:00","value":4500,"part":"b"},
{"date":"2017-09-24T00:00","value":5000,"part":"b"},
{"date":"2017-09-27T00:00","value":5500,"part":"b"},
{"date":"2017-09-30T00:00","value":19000,"part":"b"},
{"date":"2017-10-02T00:00","value":6000,"part":"b"},
{"date":"2017-10-04T00:00","value":14000,"part":"b"},
{"date":"2017-10-06T00:00","value":5000,"part":"b"},
{"date":"2017-10-09T00:00","value":4500,"part":"b"},
{"date":"2017-10-12T00:00","value":5000,"part":"b"},
{"date":"2017-10-14T00:00","value":5500,"part":"b"},
{"date":"2017-10-17T00:00","value":18500,"part":"b"},
{"date":"2017-10-19T00:00","value":5000,"part":"b"},
{"date":"2017-10-22T00:00","value":4500,"part":"b"},
{"date":"2017-10-24T00:00","value":5500,"part":"b"},
{"date":"2017-10-26T00:00","value":18500,"part":"b"},
{"date":"2017-10-28T00:00","value":5500,"part":"b"},
{"date":"2017-10-31T00:00","value":5000,"part":"b"},
{"date":"2017-11-03T00:00","value":4500,"part":"b"},
{"date":"2017-11-06T00:00","value":5500,"part":"b"},
{"date":"2017-11-08T00:00","value":18500,"part":"b"},
{"date":"2017-11-09T00:00","value":9000,"part":"b"},
{"date":"2017-11-10T00:00","value":18500,"part":"b"},
{"date":"2017-11-12T00:00","value":5500,"part":"b"},
{"date":"2017-11-15T00:00","value":5000,"part":"b"},
{"date":"2017-11-17T00:00","value":19000,"part":"b"},
{"date":"2017-11-18T00:00","value":12000,"part":"b"},
{"date":"2017-11-20T00:00","value":19500,"part":"b"},
{"date":"2017-11-21T00:00","value":7000,"part":"b"},
{"date":"2017-11-23T00:00","value":18500,"part":"b"},
{"date":"2017-11-25T00:00","value":6000,"part":"b"},
{"date":"2017-11-28T00:00","value":5000,"part":"b"},
{"date":"2017-11-30T00:00","value":6000,"part":"b"},
{"date":"2017-12-03T00:00","value":19000,"part":"b"},
{"date":"2017-12-04T00:00","value":12000,"part":"b"},
{"date":"2017-12-06T00:00","value":20000,"part":"b"},
{"date":"2017-12-07T00:00","value":10000,"part":"b"},
{"date":"2017-12-09T00:00","value":19500,"part":"b"},
{"date":"2017-12-10T17:00","value":15000,"part":"b"}
]
},
"vconcat":[
{
"width":1145,"height":398,
"layer":[
{"data":{"name":"main"},"mark":{"type":"area","color":"#ff0000","opacity":0.16},
"encoding":{
"x":{"field":"date","type":"temporal","title":null,
"scale":{"domain":[{"year":2017,"month":"jun","date":1},{"year":2017,"month":"jun","date":17,"hours":9}]},
"axis":{"format":"%d %b","tickCount":{"interval":"day","step":1},"labelFlush":false,"labelOverlap":false,"ticks":false,"labelPadding":3,"grid":true,"gridColor":"#c8c8c8","gridWidth":1,"domainColor":"#999999","labelFontSize":9.4,"labelColor":"#333333"}},
"y":{"field":"low","type":"quantitative","title":"Wind Power (Kw)",
"scale":{"domain":[0,24270],"nice":false},
"axis":{"values":[0,2000,4000,6000,8000,10000,12000,14000,16000,18000,20000,22000,24000],"format":"d","ticks":false,"labelPadding":3,"grid":true,"gridColor":"#d0d0d0","domainColor":"#999999","labelFontSize":9.4,"labelColor":"#333333","titleFontSize":10.7,"titleFontWeight":"normal","titleColor":"#333333","titlePadding":4,"titleY":220}},
"y2":{"field":"high"}}},
{"data":{"name":"main"},"mark":{"type":"line","color":"#008000","strokeWidth":1},
"encoding":{"x":{"field":"date","type":"temporal","title":null},"y":{"field":"real","type":"quantitative","title":"Wind Power (Kw)"}}},
{"data":{"name":"main"},"mark":{"type":"line","color":"#ff0000","strokeWidth":1},
"encoding":{"x":{"field":"date","type":"temporal","title":null},"y":{"field":"forecast","type":"quantitative","title":"Wind Power (Kw)"}}},
{"data":{"values":[{}]},"mark":{"type":"text","align":"left","baseline":"middle","fontSize":8.2,"color":"#333333"},
"encoding":{"x":{"datum":{"year":2017,"month":"jun","date":15,"hours":1,"minutes":30},"type":"temporal"},"y":{"datum":23965,"type":"quantitative","title":"Wind Power (Kw)"},"text":{"value":"31/05/2017 à 23:00:00:"}}},
{"data":{"values":[{}]},"mark":{"type":"text","align":"left","baseline":"middle","fontSize":9,"fontWeight":"bold","color":"#008000"},
"encoding":{"x":{"datum":{"year":2017,"month":"jun","date":15,"hours":1,"minutes":30},"type":"temporal"},"y":{"datum":23307,"type":"quantitative","title":"Wind Power (Kw)"},"text":{"value":"Real_WindPower"}}},
{"data":{"values":[{}]},"mark":{"type":"text","align":"left","baseline":"middle","fontSize":9,"color":"#333333"},
"encoding":{"x":{"datum":{"year":2017,"month":"jun","date":16,"hours":3,"minutes":0},"type":"temporal"},"y":{"datum":23307,"type":"quantitative","title":"Wind Power (Kw)"},"text":{"value":": 3167.09"}}},
{"data":{"values":[{}]},"mark":{"type":"text","align":"left","baseline":"middle","fontSize":9,"fontWeight":"bold","color":"#ff0000"},
"encoding":{"x":{"datum":{"year":2017,"month":"jun","date":15,"hours":1,"minutes":30},"type":"temporal"},"y":{"datum":22667,"type":"quantitative","title":"Wind Power (Kw)"},"text":{"value":"WindPower_Forecast"}}},
{"data":{"values":[{}]},"mark":{"type":"text","align":"left","baseline":"middle","fontSize":9,"color":"#333333"},
"encoding":{"x":{"datum":{"year":2017,"month":"jun","date":16,"hours":9,"minutes":20},"type":"temporal"},"y":{"datum":22667,"type":"quantitative","title":"Wind Power (Kw)"},"text":{"value":": 1131.24"}}}
]
},
{
"width":1145,"height":27,
"layer":[
{"data":{"values":[{}]},"mark":{"type":"rect","color":"#f4f4f4"},
"encoding":{"x":{"datum":{"year":2017,"month":"jan","date":3,"hours":17},"type":"temporal",
"scale":{"domain":[{"year":2017,"month":"jan","date":3,"hours":17},{"year":2017,"month":"dec","date":10,"hours":17}]},
"axis":{"labels":false,"ticks":false,"domain":false,"grid":false,"title":"Date","titleFontSize":12,"titleFontWeight":"normal","titleColor":"#333333","titlePadding":2,"titleX":552}},
"x2":{"datum":{"year":2017,"month":"jun","date":1}}}},
{"data":{"values":[{}]},"mark":{"type":"rect","color":"#f4f4f4"},
"encoding":{"x":{"datum":{"year":2017,"month":"jun","date":17,"hours":9},"type":"temporal"},
"x2":{"datum":{"year":2017,"month":"dec","date":10,"hours":17}}}},
{"data":{"name":"overview"},"mark":{"type":"area","color":"#d3d7de","line":{"color":"#c0c6d2","strokeWidth":1}},
"encoding":{"x":{"field":"date","type":"temporal"},"detail":{"field":"part"},
"y":{"field":"value","type":"quantitative","scale":{"domain":[-4000,24000],"nice":false,"zero":false},"axis":null},
"y2":{"datum":-4000}}},
{"data":{"name":"main"},"mark":{"type":"area","color":"#9aa5bd","line":{"color":"#66738f","strokeWidth":1}},
"encoding":{"x":{"field":"date","type":"temporal"},
"y":{"field":"real","type":"quantitative","axis":null},
"y2":{"datum":-4000}}},
{"data":{"values":[{}]},"mark":{"type":"rule","color":"#777777","strokeWidth":1},
"encoding":{"x":{"datum":{"year":2017,"month":"jan","date":3,"hours":17},"type":"temporal"},"x2":{"datum":{"year":2017,"month":"jun","date":1}},"y":{"datum":24000,"type":"quantitative","axis":null}}},
{"data":{"values":[{}]},"mark":{"type":"rule","color":"#777777","strokeWidth":1},
"encoding":{"x":{"datum":{"year":2017,"month":"jun","date":17,"hours":9},"type":"temporal"},"x2":{"datum":{"year":2017,"month":"dec","date":10,"hours":17}},"y":{"datum":24000,"type":"quantitative","axis":null}}},
{"data":{"values":[{}]},"mark":{"type":"rule","color":"#777777","strokeWidth":1},
"encoding":{"x":{"datum":{"year":2017,"month":"jun","date":1},"type":"temporal"},"x2":{"datum":{"year":2017,"month":"jun","date":17,"hours":9}},"y":{"datum":-4000,"type":"quantitative","axis":null}}},
{"data":{"values":[{}]},"mark":{"type":"rule","color":"#777777","strokeWidth":1},
"encoding":{"x":{"datum":{"year":2017,"month":"jun","date":1},"type":"temporal"},"y":{"datum":24000,"type":"quantitative","axis":null},"y2":{"datum":-4000}}},
{"data":{"values":[{}]},"mark":{"type":"rule","color":"#777777","strokeWidth":1},
"encoding":{"x":{"datum":{"year":2017,"month":"jun","date":17,"hours":9},"type":"temporal"},"y":{"datum":24000,"type":"quantitative","axis":null},"y2":{"datum":-4000}}},
{"data":{"values":[{}]},"mark":{"type":"rule","color":"#999999","strokeWidth":1},
"encoding":{"x":{"datum":{"year":2017,"month":"jan","date":3,"hours":17},"type":"temporal"},"y":{"datum":24000,"type":"quantitative","axis":null},"y2":{"datum":-4000}}},
{"data":{"values":[{}]},"mark":{"type":"point","shape":"M-0.38,-1H0.38V1H-0.38Z","size":169,"filled":true,"fill":"#f0f0f0","stroke":"#555555","strokeWidth":1,"opacity":1},
"encoding":{"x":{"datum":{"year":2017,"month":"jun","date":1},"type":"temporal"},"y":{"datum":10000,"type":"quantitative","axis":null}}},
{"data":{"values":[{}]},"mark":{"type":"point","shape":"M-0.38,-1H0.38V1H-0.38Z","size":169,"filled":true,"fill":"#f0f0f0","stroke":"#555555","strokeWidth":1,"opacity":1},
"encoding":{"x":{"datum":{"year":2017,"month":"jun","date":17,"hours":9},"type":"temporal"},"y":{"datum":10000,"type":"quantitative","axis":null}}}
]
}
]
}
